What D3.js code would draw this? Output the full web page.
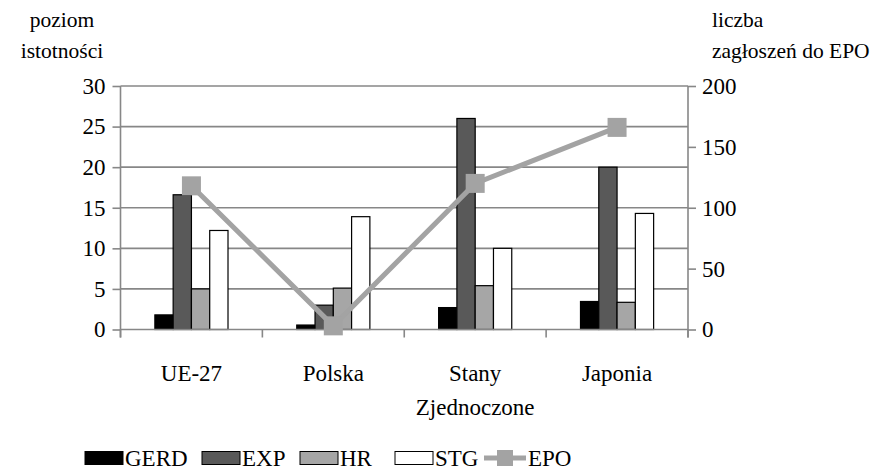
<!DOCTYPE html>
<html>
<head>
<meta charset="utf-8">
<script src="https://cdn.jsdelivr.net/npm/d3@7"></script>
<style>
  html, body { margin: 0; padding: 0; background: #fff; }
  svg text { font-family: "Liberation Serif", "Times New Roman", serif; fill: #000; }
</style>
</head>
<body>
<svg id="chart" width="874" height="470" font-family="Liberation Serif"></svg>
<script>
// Kraje / regiony (etykiety osi X, wiersze etykiety)
const categories = [["UE-27"], ["Polska"], ["Stany", "Zjednoczone"], ["Japonia"]];
// Poziom istotności – lewa oś
const gerd = [1.8, 0.55, 2.7, 3.45];
const exp  = [16.6, 3.0, 26.0, 20.0];
const hr   = [5.0, 5.1, 5.4, 3.35];
const stg  = [12.2, 13.9, 10.0, 14.3];
// Liczba zgłoszeń do EPO – prawa oś
const epo  = [118, 3, 120, 166];
const leftTicks  = [0, 5, 10, 15, 20, 25, 30];
const rightTicks = [0, 50, 100, 150, 200];
const seriesNames = ["GERD", "EXP", "HR", "STG"];
const lineName = "EPO";

const barSeries = [gerd, exp, hr, stg];
const fills = { GERD: "#000000", EXP: "#595959", HR: "#a6a6a6", STG: "#ffffff" };
const lineColor = "#a3a3a3";
const gridColor = "#878787";

const svg = d3.select("#chart");
const L = 120.5, R = 688, T = 86, B = 329.5;

const x = d3.scaleBand().domain(d3.range(categories.length)).range([L, R]).padding(0);
const xs = d3.scaleBand().domain(seriesNames).range([0, x.bandwidth()])
  .paddingInner(0).paddingOuter(1.88);
const yL = d3.scaleLinear().domain([0, 30]).range([B, T]);
const yR = d3.scaleLinear().domain([0, 200]).range([B, T]);

const fs = 23;

// siatka pozioma
svg.append("g").selectAll("line").data(leftTicks.filter(d => d > 0)).join("line")
  .attr("x1", L).attr("x2", R)
  .attr("y1", d => yL(d)).attr("y2", d => yL(d))
  .attr("stroke", gridColor).attr("stroke-width", 1.6);

// słupki
const groups = svg.append("g").selectAll("g").data(categories).join("g")
  .attr("transform", (d, i) => `translate(${x(i)},0)`);
groups.selectAll("rect")
  .data((d, i) => seriesNames.map((s, k) => ({ s, v: barSeries[k][i] })))
  .join("rect")
  .attr("x", d => xs(d.s))
  .attr("width", xs.bandwidth())
  .attr("y", d => yL(d.v))
  .attr("height", d => B - yL(d.v))
  .attr("fill", d => fills[d.s])
  .attr("stroke", "#000").attr("stroke-width", 1.2);

// lewa oś
const axL = svg.append("g").attr("transform", `translate(${L},0)`)
  .call(d3.axisLeft(yL).tickValues(leftTicks).tickSize(8).tickPadding(7));
// prawa oś
const axR = svg.append("g").attr("transform", `translate(${R},0)`)
  .call(d3.axisRight(yR).tickValues(rightTicks).tickSize(8).tickPadding(6));
[axL, axR].forEach(a => {
  a.attr("font-family", "Liberation Serif");
  a.select(".domain").remove();
  a.selectAll("line").attr("stroke", gridColor).attr("stroke-width", 1.6);
  a.selectAll("text").attr("font-size", fs).attr("fill", "#000");
});
svg.append("line").attr("x1", L).attr("x2", L).attr("y1", T).attr("y2", B + 8)
  .attr("stroke", gridColor).attr("stroke-width", 1.6);
svg.append("line").attr("x1", R).attr("x2", R).attr("y1", T).attr("y2", B + 8)
  .attr("stroke", gridColor).attr("stroke-width", 1.6);

// oś X
svg.append("line").attr("x1", L).attr("x2", R).attr("y1", B).attr("y2", B)
  .attr("stroke", gridColor).attr("stroke-width", 1.6);
svg.append("g").selectAll("line").data(d3.range(categories.length + 1)).join("line")
  .attr("x1", i => L + i * x.step()).attr("x2", i => L + i * x.step())
  .attr("y1", B).attr("y2", B + 8)
  .attr("stroke", gridColor).attr("stroke-width", 1.6);

const xl = svg.append("g").selectAll("text").data(categories).join("text")
  .attr("x", (d, i) => x(i) + x.bandwidth() / 2)
  .attr("y", 381)
  .attr("text-anchor", "middle").attr("font-size", fs);
xl.selectAll("tspan").data(d => d).join("tspan")
  .attr("x", function () { return d3.select(this.parentNode).attr("x"); })
  .attr("dy", (d, k) => k === 0 ? 0 : 34)
  .text(d => d);

// linia EPO
const cx = i => x(i) + x.bandwidth() / 2;
svg.append("path")
  .attr("d", d3.line().x((d, i) => cx(i)).y(d => yR(d))(epo))
  .attr("fill", "none").attr("stroke", lineColor).attr("stroke-width", 5);
const ms = 19;
svg.append("g").selectAll("rect").data(epo).join("rect")
  .attr("x", (d, i) => cx(i) - ms / 2).attr("y", d => yR(d) - ms / 2)
  .attr("width", ms).attr("height", ms).attr("fill", lineColor);

// tytuły osi
const tfs = 21.5;
svg.append("text").attr("x", 62).attr("y", 27).attr("text-anchor", "middle")
  .attr("font-size", tfs).text("poziom");
svg.append("text").attr("x", 62).attr("y", 58).attr("text-anchor", "middle")
  .attr("font-size", tfs).text("istotności");
svg.append("text").attr("x", 712).attr("y", 27).attr("font-size", tfs).text("liczba");
svg.append("text").attr("x", 712).attr("y", 58).attr("font-size", tfs).text("zagłoszeń do EPO");

// legenda
const ly = 458;
const legendItems = [
  { name: "GERD", x: 85 }, { name: "EXP", x: 202 }, { name: "HR", x: 300 },
  { name: "STG", x: 395 }
];
const lg = svg.append("g");
legendItems.forEach(it => {
  lg.append("rect").attr("x", it.x).attr("y", ly - 6.5).attr("width", 38).attr("height", 13)
    .attr("fill", fills[it.name]).attr("stroke", "#000").attr("stroke-width", 1);
  lg.append("text").attr("x", it.x + 40).attr("y", ly + 8).attr("font-size", fs).text(it.name);
});
lg.append("line").attr("x1", 484).attr("x2", 526).attr("y1", ly).attr("y2", ly)
  .attr("stroke", lineColor).attr("stroke-width", 5);
lg.append("rect").attr("x", 505 - 8).attr("y", ly - 8).attr("width", 16).attr("height", 16)
  .attr("fill", lineColor);
lg.append("text").attr("x", 528).attr("y", ly + 8).attr("font-size", fs).text(lineName);
</script>
</body>
</html>
